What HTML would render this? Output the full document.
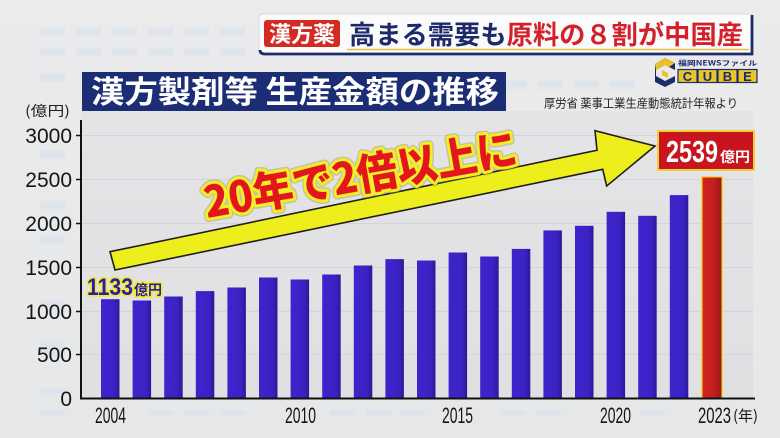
<!DOCTYPE html>
<html><head><meta charset="utf-8"><style>
html,body{margin:0;padding:0;width:780px;height:438px;overflow:hidden;background:#e9e9ea;}
svg{display:block;}
text{font-family:"Liberation Sans","Noto Sans CJK JP",sans-serif;}
.jp{font-family:"Noto Sans CJK JP","Liberation Sans",sans-serif;}
</style></head><body>
<svg width="780" height="438" viewBox="0 0 780 438" xmlns="http://www.w3.org/2000/svg">
<defs>
<linearGradient id="bg" x1="0" y1="0" x2="0" y2="1"><stop offset="0" stop-color="#ebebec"/><stop offset="1" stop-color="#e6e7e8"/></linearGradient>
<linearGradient id="tile" x1="0" y1="0" x2="0" y2="1"><stop offset="0" stop-color="#dfe7ef"/><stop offset="0.5" stop-color="#cfdde9"/><stop offset="1" stop-color="#e2e8ee"/></linearGradient>
<linearGradient id="blue" x1="0" y1="0" x2="1" y2="0"><stop offset="0" stop-color="#3d25cc"/><stop offset="0.7" stop-color="#3a22c4"/><stop offset="1" stop-color="#2b1a98"/></linearGradient>
<linearGradient id="red" x1="0" y1="0" x2="1" y2="0"><stop offset="0" stop-color="#d42222"/><stop offset="0.6" stop-color="#c21e1e"/><stop offset="1" stop-color="#981818"/></linearGradient>
<linearGradient id="plot" x1="0" y1="0" x2="0" y2="1"><stop offset="0" stop-color="#e4e4e6"/><stop offset="1" stop-color="#e0e0e2"/></linearGradient>
</defs>
<rect x="0" y="0" width="780" height="438" fill="url(#bg)"/>
<!-- decorative tiles -->
<g fill="url(#tile)" opacity="0.5">
<rect x="40" y="27" width="25" height="10"/><rect x="76" y="27" width="25" height="10"/><rect x="112" y="27" width="25" height="10"/><rect x="148" y="27" width="25" height="10"/><rect x="184" y="27" width="25" height="10"/><rect x="220" y="27" width="25" height="10"/>
<rect x="40" y="47" width="25" height="10"/><rect x="76" y="47" width="25" height="10"/><rect x="112" y="47" width="25" height="10"/><rect x="148" y="47" width="25" height="10"/><rect x="184" y="47" width="25" height="10"/><rect x="220" y="47" width="25" height="10"/>
<rect x="40" y="73" width="25" height="10"/>
<rect x="502" y="80" width="25" height="10"/><rect x="538" y="80" width="25" height="10"/><rect x="574" y="80" width="25" height="10"/><rect x="610" y="80" width="25" height="10"/>
<rect x="40" y="150" width="25" height="10"/><rect x="40" y="200" width="25" height="12"/><rect x="40" y="235" width="25" height="10"/><rect x="40" y="300" width="25" height="10"/><rect x="40" y="340" width="25" height="18"/><rect x="40" y="388" width="25" height="8"/>
<rect x="40" y="410" width="25" height="6"/><rect x="148" y="410" width="25" height="6"/><rect x="184" y="410" width="25" height="6"/><rect x="220" y="410" width="25" height="6"/><rect x="330" y="410" width="25" height="6"/><rect x="366" y="410" width="25" height="6"/><rect x="400" y="410" width="25" height="6"/><rect x="500" y="410" width="25" height="6"/><rect x="536" y="410" width="25" height="6"/><rect x="640" y="410" width="25" height="6"/>
</g>

<!-- header box -->
<rect x="259" y="14" width="494" height="40" rx="4" fill="#fbfbfb" stroke="#d8d8dc" stroke-width="1"/>
<line x1="347" y1="49.5" x2="749" y2="49.5" stroke="#e6c13c" stroke-width="1.6"/>
<path d="M260 50 Q260 54 265 54 L752 54 L752 15" fill="none" stroke="#1d2b6b" stroke-width="2.8"/>
<rect x="264" y="20" width="76" height="27" rx="3" fill="#d42a22"/>
<text class="jp" x="269" y="42" font-size="22" font-weight="700" fill="#ffffff" textLength="66" lengthAdjust="spacingAndGlyphs">漢方薬</text>
<text class="jp" x="349" y="44" font-size="26" font-weight="700" textLength="394" lengthAdjust="spacingAndGlyphs"><tspan fill="#1c2a6c">高まる需要も</tspan><tspan fill="#d3202a">原料の８割が中国産</tspan></text>

<!-- CUBE logo -->
<polygon points="665,58 675,63 675,70 665,65 656,70 656,76 665,81 675,76 675,82 665,87 655,82 655,64" fill="#1d2b6b"/>
<polygon points="665,58 675,63 669,67 665,65 656,70 655,64" fill="#e8c22a"/>
<polygon points="662,70 668,73 668,78 662,75" fill="#e8c22a"/>
<text class="jp" x="678" y="65.5" font-size="7" font-weight="700" fill="#1d2b6b" textLength="79" lengthAdjust="spacingAndGlyphs">福岡NEWSファイル</text>
<g stroke="#1d2b6b" stroke-width="1.2" fill="#e8c52a">
<rect x="678" y="69.5" width="19" height="13"/><rect x="698" y="69.5" width="19" height="13"/><rect x="718" y="69.5" width="19" height="13"/><rect x="738" y="69.5" width="19" height="13"/>
</g>
<g font-size="13" font-weight="700" fill="#1d2b6b" text-anchor="middle">
<text x="687.5" y="81">C</text><text x="707.5" y="81">U</text><text x="727.5" y="81">B</text><text x="747.5" y="81">E</text>
</g>

<!-- plot background -->
<rect x="81" y="111" width="672" height="288" fill="url(#plot)"/>
<!-- title banner -->
<rect x="82" y="72" width="424" height="39" fill="#1b2d74"/>
<text class="jp" x="91" y="103" font-size="31" font-weight="700" fill="#ffffff" textLength="408" lengthAdjust="spacingAndGlyphs">漢方製剤等 生産金額の推移</text>
<text class="jp" x="544" y="107.5" font-size="12" fill="#222" textLength="194" lengthAdjust="spacingAndGlyphs">厚労省 薬事工業生産動態統計年報より</text>

<!-- gridlines -->
<g stroke="#d4d4d8" stroke-width="1">
<line x1="82" y1="135.5" x2="753" y2="135.5"/><line x1="82" y1="179.5" x2="753" y2="179.5"/><line x1="82" y1="223.5" x2="753" y2="223.5"/><line x1="82" y1="267.5" x2="753" y2="267.5"/><line x1="82" y1="311.5" x2="753" y2="311.5"/><line x1="82" y1="354.5" x2="753" y2="354.5"/>
</g>

<!-- bars -->
<g fill="url(#blue)">
<rect x="101.0" y="299.2" width="18.5" height="99.3"/>
<rect x="132.6" y="300.5" width="18.5" height="98.0"/>
<rect x="164.2" y="296.5" width="18.5" height="102.0"/>
<rect x="195.8" y="291.1" width="18.5" height="107.4"/>
<rect x="227.4" y="287.5" width="18.5" height="111.0"/>
<rect x="259.0" y="277.5" width="18.5" height="121.0"/>
<rect x="290.6" y="279.5" width="18.5" height="119.0"/>
<rect x="322.2" y="274.5" width="18.5" height="124.0"/>
<rect x="353.8" y="265.5" width="18.5" height="133.0"/>
<rect x="385.4" y="259.1" width="18.5" height="139.4"/>
<rect x="417.0" y="260.5" width="18.5" height="138.0"/>
<rect x="448.6" y="252.5" width="18.5" height="146.0"/>
<rect x="480.2" y="256.5" width="18.5" height="142.0"/>
<rect x="511.8" y="248.9" width="18.5" height="149.6"/>
<rect x="543.4" y="230.4" width="18.5" height="168.1"/>
<rect x="575.0" y="225.8" width="18.5" height="172.7"/>
<rect x="606.6" y="211.8" width="18.5" height="186.7"/>
<rect x="638.2" y="215.8" width="18.5" height="182.7"/>
<rect x="669.8" y="195.1" width="18.5" height="203.4"/>
</g>
<rect x="701" y="176" width="22" height="223" fill="#f2dc3a"/>
<rect x="702.5" y="177.5" width="19" height="221" fill="url(#red)"/>

<!-- axes -->
<line x1="81" y1="120" x2="81" y2="399.5" stroke="#111" stroke-width="2"/>
<line x1="80" y1="398.5" x2="755" y2="398.5" stroke="#111" stroke-width="2"/>
<g stroke="#111" stroke-width="1.5">
<line x1="76" y1="135.5" x2="81" y2="135.5"/><line x1="76" y1="179.5" x2="81" y2="179.5"/><line x1="76" y1="223.5" x2="81" y2="223.5"/><line x1="76" y1="267.5" x2="81" y2="267.5"/><line x1="76" y1="311.5" x2="81" y2="311.5"/><line x1="76" y1="354.5" x2="81" y2="354.5"/>
</g>
<g font-size="21" fill="#151515" text-anchor="end">
<text x="72" y="143">3000</text><text x="72" y="187">2500</text><text x="72" y="231">2000</text><text x="72" y="275">1500</text><text x="72" y="319">1000</text><text x="72" y="362">500</text><text x="72" y="406">0</text>
</g>
<text class="jp" x="25" y="116" font-size="14" fill="#222" textLength="45" lengthAdjust="spacingAndGlyphs">(億円)</text>
<g font-size="22" fill="#151515">
<text x="95" y="423" textLength="31" lengthAdjust="spacingAndGlyphs">2004</text>
<text x="285" y="423" textLength="31" lengthAdjust="spacingAndGlyphs">2010</text>
<text x="442" y="423" textLength="31" lengthAdjust="spacingAndGlyphs">2015</text>
<text x="600" y="423" textLength="31" lengthAdjust="spacingAndGlyphs">2020</text>
<text x="698" y="423" textLength="33" lengthAdjust="spacingAndGlyphs">2023</text>
</g>
<text class="jp" x="733" y="421" font-size="15" fill="#151515" textLength="25" lengthAdjust="spacingAndGlyphs">(年)</text>

<!-- arrow -->
<polygon points="110,251.7 597,150.3 595,130.7 655,146 606.7,186 602.7,169.3 115,270" fill="#eeee1c" stroke="#1e1e1e" stroke-width="1.6" stroke-linejoin="miter"/>

<!-- big annotation -->
<g transform="translate(207,218) rotate(-10)">
<text class="jp" x="0" y="0" font-size="43" font-weight="900" fill="none" stroke="#8a8a20" stroke-width="9" stroke-linejoin="round" opacity="0.35" textLength="317" lengthAdjust="spacingAndGlyphs">20年で2倍以上に</text>
<text class="jp" x="0" y="0" font-size="43" font-weight="900" fill="#e3161c" stroke="#f2ee28" stroke-width="6" stroke-linejoin="round" paint-order="stroke" textLength="317" lengthAdjust="spacingAndGlyphs">20年で2倍以上に</text>
</g>

<!-- 1133 label -->
<g font-weight="700" stroke="#eeea3a" stroke-width="3.5" stroke-linejoin="round" paint-order="stroke" fill="#2c1e9c">
<text x="87" y="295" font-size="24" textLength="46" lengthAdjust="spacingAndGlyphs">1133</text>
<text class="jp" x="134" y="295" font-size="14" textLength="28" lengthAdjust="spacingAndGlyphs">億円</text>
</g>

<!-- 2539 label -->
<rect x="658" y="131" width="96" height="39" fill="#c8141c" stroke="#f0cf34" stroke-width="2"/>
<text x="666" y="162" font-size="31" font-weight="700" fill="#ffffff" textLength="52" lengthAdjust="spacingAndGlyphs">2539</text>
<text class="jp" x="720" y="162" font-size="14" font-weight="700" fill="#ffffff" textLength="30" lengthAdjust="spacingAndGlyphs">億円</text>
</svg>
</body></html>
